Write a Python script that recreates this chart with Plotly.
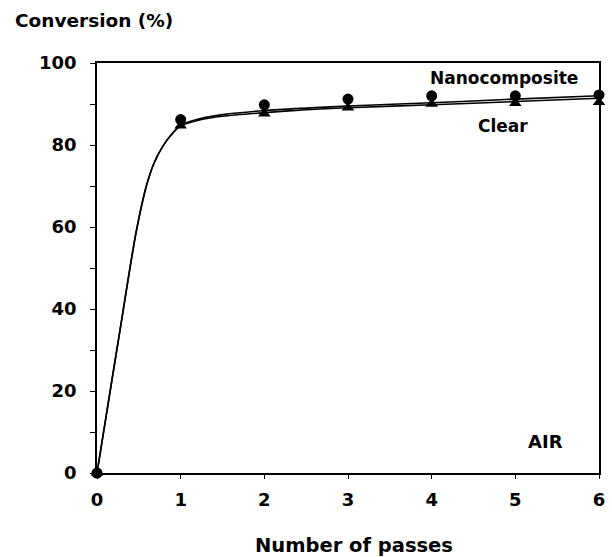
import plotly.graph_objects as go

# Measured markers
passes = [0, 1, 2, 3, 4, 5, 6]
nano_points = [0, 86.2, 89.8, 91.2, 92.0, 92.0, 92.2]
clear_points = [0, 84.7, 87.6, 89.1, 90.0, 90.2, 90.4]

# Fitted curves
curve_x = [0, 0.1, 0.2, 0.3, 0.37, 0.47, 0.59, 0.68, 0.78, 0.9, 1.0, 1.25, 1.5, 2, 2.5, 3, 4, 5, 6]
nano_curve = [0, 12.7, 25.4, 38, 47, 59, 70, 75.5, 79.5, 82.8, 84.8, 86.5, 87.4, 88.4, 89.0, 89.5, 90.3, 91.2, 92.0]
clear_curve = [0, 12.7, 25.4, 38, 47, 59, 70, 75.5, 79.5, 82.8, 84.6, 86.2, 87.0, 87.9, 88.6, 89.1, 89.8, 90.6, 91.4]

x_ticks = [0, 1, 2, 3, 4, 5, 6]
y_ticks = [0, 20, 40, 60, 80, 100]

FONT = "DejaVu Sans"
W, H = 612, 557
L, R, T, B = 97, 605, 63, 473

def px(x):
    return (x - L) / (R - L)

def py(y):
    return (B - y) / (B - T)

fig = go.Figure()
fig.add_trace(go.Scatter(x=curve_x, y=clear_curve, mode="lines",
                         line=dict(color="black", width=1.6, shape="spline", smoothing=0.8),
                         showlegend=False, hoverinfo="skip"))
fig.add_trace(go.Scatter(x=curve_x, y=nano_curve, mode="lines",
                         line=dict(color="black", width=1.6, shape="spline", smoothing=0.8),
                         showlegend=False, hoverinfo="skip"))
fig.add_trace(go.Scatter(x=passes, y=clear_points, mode="markers",
                         marker=dict(symbol="triangle-up", size=11, color="black"),
                         cliponaxis=False, showlegend=False))
fig.add_trace(go.Scatter(x=passes, y=nano_points, mode="markers",
                         marker=dict(symbol="circle", size=11, color="black"),
                         cliponaxis=False, showlegend=False))

tickfont = dict(family=FONT, size=18, color="black", weight="bold")
fig.update_xaxes(range=[0, 6], tickvals=x_ticks, ticks="outside", ticklen=4,
                 tickwidth=1.2, tickcolor="black", showline=True, linecolor="black",
                 linewidth=1.5, mirror=True, showgrid=False, zeroline=False,
                 tickfont=tickfont, ticklabelstandoff=6)
fig.update_yaxes(range=[0, 100], tickvals=y_ticks, ticks="outside", ticklen=5,
                 tickwidth=1.2, tickcolor="black", showline=True, linecolor="black",
                 linewidth=1.5, mirror=True, showgrid=False, zeroline=False,
                 tickfont=tickfont, ticklabelstandoff=10,
                 minor=dict(dtick=10, ticks="outside", ticklen=5, tickwidth=1.2,
                            tickcolor="black", showgrid=False))

def ann(text, x, y, size, xanchor="center"):
    fig.add_annotation(text=text, x=px(x), y=py(y), xref="paper", yref="paper",
                       showarrow=False, xanchor=xanchor, yanchor="middle",
                       font=dict(family=FONT, size=size, color="black", weight="bold"))

ann("Conversion (%)", 12, 21, 18.5, xanchor="left")
ann("Number of passes", 357, 545, 19.5)
ann("Nanocomposite", 509, 78, 17)
ann("Clear", 508, 126, 17)
ann("AIR", 551, 441, 18)

fig.update_layout(width=W, height=H, margin=dict(l=L, r=W - R, t=T, b=H - B),
                  paper_bgcolor="white", plot_bgcolor="white")
fig.write_html("out.html")
